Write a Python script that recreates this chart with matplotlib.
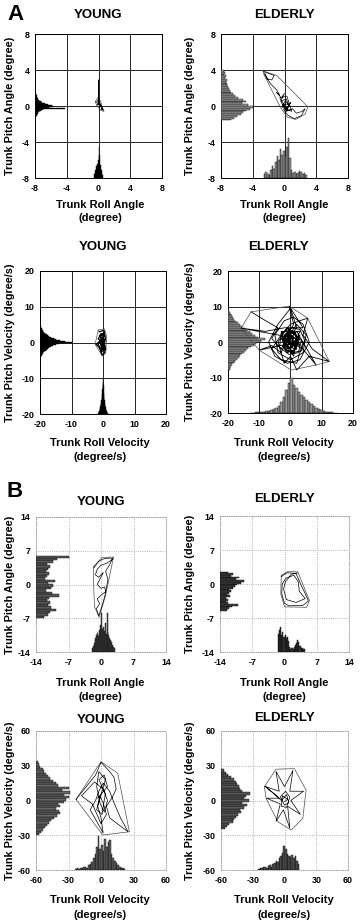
import matplotlib
matplotlib.use("Agg")
import matplotlib.pyplot as plt
import numpy as np

plt.rcParams["font.family"] = ["Liberation Sans", "DejaVu Sans"]
plt.rcParams["font.weight"] = "bold"

W, H = 362, 924

# ---------------- data ----------------
# A, young, angle (deg)
a_yng_ang_pitch_start, a_yng_ang_pitch_w = -1.2, 0.1
a_yng_ang_pitch = [0.15, 0.2, 0.3, 0.35, 0.4, 0.5, 0.6, 0.8, 1.0, 3.8, 1.8, 2.3, 2.1,
                   1.6, 1.2, 0.9, 0.7, 0.6, 0.5, 0.4, 0.35, 0.3, 0.25, 0.2, 0.15, 0.1]
a_yng_ang_roll_start, a_yng_ang_roll_w = -0.6, 0.1
a_yng_ang_roll = [0.4, 0.6, 0.9, 1.3, 1.6, 2.0, 3.5, 2.6, 1.5, 0.9, 0.5, 0.3]
a_yng_ang_hull = [(-0.4, 0.5), (0.0, 1.0), (0.3, 0.4), (0.7, -0.6), (0.3, -0.5), (-0.2, 0.0)]
a_yng_ang_traj = [(-0.3, 0.4), (0.1, 0.8), (0.0, 0.3), (-0.2, 0.1), (0.2, 0.2), (0.4, -0.1),
                  (0.3, -0.4), (0.5, -0.3), (0.2, 0.0), (-0.1, 0.3), (0.0, 0.6), (0.0, 2.9),
                  (0.05, 0.6), (0.3, 0.1), (0.6, -0.5), (0.4, -0.3)]

# A, elderly, angle (deg)
a_old_ang_pitch_start, a_old_ang_pitch_w = -1.6, 0.2
a_old_ang_pitch = [1.2, 1.6, 2.0, 2.5, 2.8, 3.2, 3.6, 4.0, 3.4, 2.6, 3.1, 2.8, 2.2, 1.8,
                   1.5, 1.3, 1.1, 1.0, 0.9, 0.7, 0.8, 0.6, 0.7, 0.5, 0.6, 0.4, 0.5, 0.4]
a_old_ang_roll_start, a_old_ang_roll_w = -2.6, 0.2
a_old_ang_roll = [0.5, 0.7, 0.4, 0.3, 0.9, 1.3, 1.0, 1.8, 2.4, 2.0, 3.2, 2.6, 3.0, 2.5,
                  3.4, 4.4, 2.2, 0.9, 0.6, 0.7, 0.5, 0.6, 0.8, 0.7, 0.5, 0.6, 0.3]
a_old_ang_hull = [(-2.7, 3.9), (-1.0, 3.4), (2.95, -0.1), (2.6, -0.9), (1.4, -1.5),
                  (0.3, -1.2), (-0.6, 0.0), (-2.6, 3.5)]
a_old_ang_traj = [(-2.6, 3.8), (-1.3, 3.4), (-1.6, 2.9), (-2.2, 3.0), (-2.5, 3.6), (-1.8, 2.5),
                  (-1.0, 1.8), (-0.6, 1.2), (-1.0, 1.5), (-0.4, 0.9), (0.0, 1.4), (-0.5, 0.5),
                  (0.2, 0.8), (0.5, 0.2), (-0.2, 0.2), (0.3, -0.3), (0.8, 0.4), (0.2, -0.6),
                  (1.0, -0.3), (1.5, -0.8), (2.2, -0.6), (2.6, -0.3), (2.1, -1.1), (1.2, -1.4),
                  (0.4, -1.0), (-0.1, -0.4), (0.6, 0.0), (0.1, 0.6), (-0.3, -0.1), (0.4, -0.5),
                  (-0.6, 0.9), (0.3, 1.1), (0.9, -0.6), (0.0, -0.2), (-0.4, 0.4)]

# A, young, velocity (deg/s)
a_yng_vel_pitch_start, a_yng_vel_pitch_w = -4.0, 0.25
a_yng_vel_pitch = [0.3, 0.5, 0.6, 0.8, 1.0, 1.3, 1.5, 1.9, 2.2, 2.6, 3.0, 3.6, 4.2, 5.0, 6.0,
                   7.5, 10.0, 8.0, 6.5, 5.2, 4.3, 3.6, 3.0, 2.5, 2.1, 1.8, 1.5, 1.2, 1.0, 0.8,
                   0.6, 0.5, 0.4, 0.3]
a_yng_vel_roll_start, a_yng_vel_roll_w = -1.5, 0.1
a_yng_vel_roll = [0.3, 0.5, 0.7, 0.9, 1.2, 1.5, 1.8, 2.2, 2.7, 3.2, 3.8, 4.5, 5.5, 7.0, 9.0,
                  10.0, 8.0, 6.0, 4.8, 3.8, 3.0, 2.4, 1.9, 1.5, 1.2, 0.9, 0.7, 0.5, 0.3, 0.2]
a_yng_vel_hull = [(-1.5, 3.5), (0.5, 3.8), (1.2, 1.5), (0.8, -3.0), (-0.2, -3.8), (-2.5, -0.5)]
a_yng_vel_traj = [(-1.2, 3.0), (0.3, 3.4), (0.8, 1.0), (-0.5, -1.0), (0.6, -2.8), (-0.3, -3.5),
                  (-1.0, -1.5), (-2.2, -0.5), (-0.8, 0.5), (0.5, 2.0), (-0.6, 2.5), (-1.5, 1.0),
                  (0.2, -0.2), (0.9, -1.8), (-0.2, -2.2), (-0.9, 0.0), (0.0, 1.5), (0.7, 0.3),
                  (-0.4, -0.6), (0.3, -1.4), (-0.7, 1.8), (0.4, 2.8), (-0.1, 0.5), (0.6, -0.9),
                  (-0.5, -2.8), (-1.6, -0.3), (-0.3, 1.0), (0.5, -0.3), (-0.6, -1.8),
                  (0.2, 2.2), (-1.0, 2.0), (0.8, -2.2)]

# A, elderly, velocity (deg/s)
a_old_vel_pitch_start, a_old_vel_pitch_w = -8.0, 0.5
a_old_vel_pitch = [0.5, 0.8, 1.0, 1.4, 1.8, 2.3, 2.8, 3.4, 3.9, 4.5, 5.2, 5.8, 6.5, 7.3, 8.2,
                   9.0, 10.5, 12.0, 9.5, 8.5, 7.8, 7.0, 6.2, 5.4, 4.6, 3.9, 3.2, 2.6, 2.0, 1.6,
                   1.2, 0.9, 0.6, 0.4]
a_old_vel_roll_start, a_old_vel_roll_w = -12.8, 0.8
a_old_vel_roll = [0.1, 0.1, 0.2, 0.2, 0.3, 0.4, 0.5, 0.7, 0.9, 1.2, 1.5, 2.0, 3.0, 4.5, 6.5,
                  8.5, 9.8, 8.0, 7.0, 6.0, 5.2, 4.4, 3.6, 3.0, 2.4, 1.9, 1.5, 1.1, 0.8, 0.6,
                  0.4, 0.3, 0.2, 0.1, 0.1]
a_old_vel_hull = [(-15.8, 3.9), (-12.6, 8.5), (-0.4, 10.1), (5.5, 6.7), (12.4, -5.5),
                  (8.2, -6.5), (0.2, -7.9), (-10.0, -2.3)]
a_old_vel_traj = [(-12.6, 8.5), (-8, 6), (-4, 4), (-6, 1), (-3, -2), (0, 3), (3, 1), (1, -3),
                  (-2, 0), (2, 5), (5, 2), (4, -3), (0, -5), (-4, -3), (-5, 2), (-2, 6), (1, 7),
                  (4, 5), (6, 0), (3, -5), (-1, -6), (-5, -4), (-7, 0), (-4, 5), (0, 9.5), (2, 4),
                  (-1, 1), (1, -1), (3, 3), (-3, 3), (-1, -3), (2, -2), (0, 2), (-2, -1), (4, 0),
                  (2, -6), (-3, -5), (-6, -2), (-3, 2), (0, 5), (3, 6), (5.5, 6.7), (4, 2), (7, -2),
                  (12.4, -5.5), (6, -4), (2, -7.9), (0, -4), (-2, -6), (-4, 0), (-1, 4), (2, 2),
                  (1, -4), (-3, 1), (0, 0), (3, -1), (1, 3), (-2, 2), (-1, -2), (2, 0),
                  (-10, -2.3), (-6, -1), (-3, -3), (-1, 1), (1, 1), (-1, -1), (0, -2), (2, 1),
                  (-15.8, 3.9), (-8, 3), (-2, 4), (4, 4), (-0.4, 10.1), (1, 5), (-1, 2), (0, -1),
                  (3, 2), (1, -2), (-2, 1), (0, 1), (2, 3), (8.2, -6.5), (4, -2), (0, 0),
                  (-1.5, 2.5), (1.5, 2.5), (2.5, -0.5), (1, -2.5), (-1.5, -2.5), (-2.5, 0.5),
                  (-0.5, 3.5), (2, 1.5), (1.5, -1), (-0.5, -1.5), (-2, 0.5), (-1, 2.5),
                  (1, 1.5), (0.5, -0.5), (-1, 0), (0, 1.5), (3.5, 0.5), (2.5, -3), (-0.5, -3.5),
                  (-3.5, -1.5), (-3, 2.5), (0.5, 4), (3, 3.5), (4.5, 0.5), (3.5, -2.5),
                  (0.5, -3), (-2, -2), (-2.5, 1.5), (-0.5, 2), (1, 0), (0, -0.5), (-0.5, 0.5)]

# B, young, angle (deg)
b_yng_ang_pitch_start, b_yng_ang_pitch_w = -7.0, 0.5
b_yng_ang_pitch = [1.8, 2.5, 3.0, 4.2, 3.2, 2.6, 3.0, 2.4, 2.8, 5.0, 3.4, 2.2, 3.2, 3.6, 2.5,
                   4.0, 2.0, 2.4, 2.8, 2.2, 2.6, 3.0, 2.4, 3.6, 4.6, 7.0]
b_yng_ang_roll_start, b_yng_ang_roll_w = -2.0, 0.2
b_yng_ang_roll = [0.8, 1.2, 1.8, 2.5, 3.0, 3.6, 4.0, 3.4, 4.5, 5.5, 8.0, 4.8, 5.2, 4.4, 6.0,
                  3.8, 8.0, 4.2, 3.5, 3.0, 2.4, 2.0, 1.5, 1.0, 0.8]
b_yng_ang_hull = [(-1.6, 3.7), (0.2, 5.6), (2.7, 5.7), (1.0, -2.2), (-0.4, -6.8),
                  (-1.4, -4.6), (-1.6, 0.2)]
b_yng_ang_traj = [(-1.5, 3.5), (-0.5, 4.8), (0.5, 5.3), (2.0, 5.5), (2.5, 5.2), (1.2, 4.4),
                  (0.0, 4.0), (-0.8, 3.2), (-1.2, 2.0), (-0.5, 1.5), (0.5, 2.5), (-0.3, 1.0),
                  (-0.8, 0.0), (0.0, -0.8), (0.8, -0.5), (1.0, -1.5), (0.0, -2.2), (-0.8, -3.0),
                  (-0.3, -4.0), (-1.0, -5.0), (-0.5, -6.5), (0.2, -4.5), (0.8, -2.5),
                  (1.2, -0.5), (1.5, 1.0), (1.0, 2.8), (1.8, 4.0), (2.6, 5.6)]

# B, elderly, angle (deg)
b_old_ang_pitch_start, b_old_ang_pitch_w = -5.5, 0.35
b_old_ang_pitch = [1.5, 2.0, 2.6, 3.8, 1.8, 1.4, 1.8, 1.3, 2.2, 1.6, 1.9, 2.4, 2.0, 2.8, 3.2,
                   3.6, 4.5, 5.3, 3.4, 4.2, 2.4, 2.8, 1.8]
b_old_ang_roll_start, b_old_ang_roll_w = -1.5, 0.25
b_old_ang_roll = [3.8, 4.6, 5.1, 3.5, 4.2, 3.0, 3.4, 2.8, 3.0, 2.2, 1.0, 0.7, 0.9, 0.6, 1.0,
                  1.4, 1.8, 2.4, 2.0, 1.2, 0.8, 0.9, 0.7, 0.6]
b_old_ang_hull = [(-0.7, 1.8), (0.8, 2.6), (2.9, 2.5), (5.4, -3.4), (4.8, -4.8), (0.0, -4.7),
                  (-0.8, -2.0)]
b_old_ang_traj = [(-0.7, 1.5), (0.5, 2.3), (2.5, 2.2), (3.5, 0.0), (4.5, -2.0), (5.2, -3.5),
                  (4.0, -4.4), (1.0, -4.5), (0.0, -4.0), (-0.6, -2.0), (-0.5, 0.0), (0.3, 1.2),
                  (2.0, 1.8), (3.0, 0.5), (3.2, -1.5), (4.5, -3.0), (2.5, -3.8), (0.4, -3.2),
                  (-0.2, -1.0), (0.2, 0.5), (1.5, 2.0), (2.8, 2.3)]

# B, young, velocity (deg/s)
b_yng_vel_pitch_start, b_yng_vel_pitch_w = -30, 2
b_yng_vel_pitch = [3, 5, 6, 8, 10, 12, 14, 17, 19, 22, 21, 18, 22, 20, 26, 28, 30, 26, 31, 24,
                   30, 20, 18, 16, 13, 11, 9, 7, 6, 4, 3, 2]
b_yng_vel_roll_start, b_yng_vel_roll_w = -24, 1.5
b_yng_vel_roll = [1, 1.5, 1, 2, 1.5, 2.5, 3, 2, 4, 5, 7, 10, 14, 20, 29, 18, 22, 16, 27, 20,
                  24, 26, 14, 10, 8, 6, 4, 3, 2, 1.5, 1]
b_yng_vel_hull = [(-23, 1), (0, 33.5), (15.4, 23.5), (26.2, -27), (1.6, -29.8)]
b_yng_vel_traj = [(-23, 1), (-5, 22), (0, 33), (8, 25), (12, 20), (14, 10), (10, 2), (5, -5),
                  (8, -15), (15, -20), (25, -27), (18, -15), (12, -2), (8, 8), (2, 15), (-2, 8),
                  (-5, 0), (-10, -8), (2, -28), (0, -15), (-3, -5), (0, 5), (4, 18), (-2, 25),
                  (-4, 12), (-1, -2), (3, -10), (6, 0), (2, 10), (-6, 16), (-18, 4), (-8, -3),
                  (0, -20), (5, -12), (2, -2), (-1, 4), (-4, -8), (1, -12), (4, 6), (-2, 18),
                  (3, 22), (6, 12), (-3, 2)]

# B, elderly, velocity (deg/s)
b_old_vel_pitch_start, b_old_vel_pitch_w = -25, 2
b_old_vel_pitch = [4, 6, 8, 11, 12, 14, 16, 19, 18, 22, 25, 20, 26, 22, 24, 27, 20, 18, 17, 15,
                   14, 12, 9, 7, 5, 3]
b_old_vel_roll_start, b_old_vel_roll_w = -25, 1.5
b_old_vel_roll = [1, 2, 1.5, 2.5, 3, 2, 3.5, 4, 3, 5, 6, 8, 7, 10, 12, 15, 21, 18, 14, 12, 11,
                  13, 10, 12, 8, 5]
b_old_vel_hull = [(-19, 12), (-8, 27), (9.4, 27.5), (20.4, 9), (17.3, -15.4), (6.3, -25.5),
                  (-6.4, -18.3), (-17.4, 1.8)]
b_old_vel_traj = [(-18, 12), (-5, 8), (-8, 25), (0, 12), (8, 26), (5, 8), (18, 8), (6, 0),
                  (15, -12), (3, -5), (5, -24), (-1, -8), (-8, -18), (-4, -3), (-17, 2), (-5, 2),
                  (-18, 12), (-10, 6), (-3, 0), (2, 5), (4, -2), (0, -4), (-4, 3), (1, 8),
                  (5, 3), (2, -6), (-3, -5), (-2, 4), (3, 1), (0, -1)]

# ---------------- figure ----------------
fig = plt.figure(figsize=(W / 100, H / 100), dpi=100)


def fx(px):
    return px / W


def fy(py):
    return 1 - py / H


def add_axes(l, t, r, b):
    return fig.add_axes([fx(l), fy(b), (r - l) / W, (b - t) / H])


def draw_panel(ax, lim, ticks, pitch, roll, hull, traj, bar_fc, section, traj_lw):
    p_start, p_w, p_len = pitch
    r_start, r_w, r_len = roll
    p_y = p_start + p_w * np.arange(len(p_len))
    r_x = r_start + r_w * np.arange(len(r_len))
    ax.barh(p_y, p_len, height=p_w, left=-lim, align="edge",
            color=bar_fc, edgecolor="black", linewidth=0.3, zorder=3)
    ax.bar(r_x, r_len, width=r_w, bottom=-lim, align="edge",
           color=bar_fc, edgecolor="black", linewidth=0.3, zorder=3)
    hx, hy = zip(*(hull + hull[:1]))
    ax.plot(hx, hy, color="0.3", lw=0.5, zorder=4)
    tx, ty = zip(*traj)
    ax.plot(tx, ty, color="black", lw=traj_lw, zorder=4)
    ax.set_xlim(-lim, lim)
    ax.set_ylim(-lim, lim)
    ax.set_xticks(ticks)
    ax.set_yticks(ticks)
    ax.set_xticklabels([str(t) for t in ticks])
    ax.set_yticklabels([str(t) for t in ticks])
    ax.tick_params(length=0, labelsize=6.4, pad=4)
    for lab in ax.get_xticklabels() + ax.get_yticklabels():
        lab.set_fontweight("bold")
    if section == "A":
        ax.grid(True, color="black", lw=0.6)
        for s in ax.spines.values():
            s.set_linewidth(0.7)
    else:
        ax.grid(True, color="0.6", lw=0.6, ls=":")
        for s in ax.spines.values():
            s.set_linewidth(0.6)
            s.set_linestyle(":")
            s.set_color("0.6")
    ax.set_axisbelow(True)


ang_a = [-8, -4, 0, 4, 8]
vel_a = [-20, -10, 0, 10, 20]
ang_b = [-14, -7, 0, 7, 14]
vel_b = [-60, -30, 0, 30, 60]

panels = [
    ((35, 34, 162, 178), 8, ang_a,
     (a_yng_ang_pitch_start, a_yng_ang_pitch_w, a_yng_ang_pitch),
     (a_yng_ang_roll_start, a_yng_ang_roll_w, a_yng_ang_roll),
     a_yng_ang_hull, a_yng_ang_traj, "black", "A", 0.5),
    ((221, 34, 348, 178), 8, ang_a,
     (a_old_ang_pitch_start, a_old_ang_pitch_w, a_old_ang_pitch),
     (a_old_ang_roll_start, a_old_ang_roll_w, a_old_ang_roll),
     a_old_ang_hull, a_old_ang_traj, "0.6", "A", 0.5),
    ((40, 271, 166, 414), 20, vel_a,
     (a_yng_vel_pitch_start, a_yng_vel_pitch_w, a_yng_vel_pitch),
     (a_yng_vel_roll_start, a_yng_vel_roll_w, a_yng_vel_roll),
     a_yng_vel_hull, a_yng_vel_traj, "black", "A", 0.9),
    ((228, 271, 353, 413), 20, vel_a,
     (a_old_vel_pitch_start, a_old_vel_pitch_w, a_old_vel_pitch),
     (a_old_vel_roll_start, a_old_vel_roll_w, a_old_vel_roll),
     a_old_vel_hull, a_old_vel_traj, "0.6", "A", 0.6),
    ((36, 517, 166, 652), 14, ang_b,
     (b_yng_ang_pitch_start, b_yng_ang_pitch_w, b_yng_ang_pitch),
     (b_yng_ang_roll_start, b_yng_ang_roll_w, b_yng_ang_roll),
     b_yng_ang_hull, b_yng_ang_traj, "0.35", "B", 0.5),
    ((220, 516, 349, 652), 14, ang_b,
     (b_old_ang_pitch_start, b_old_ang_pitch_w, b_old_ang_pitch),
     (b_old_ang_roll_start, b_old_ang_roll_w, b_old_ang_roll),
     b_old_ang_hull, b_old_ang_traj, "0.25", "B", 0.5),
    ((36, 731, 166, 870), 60, vel_b,
     (b_yng_vel_pitch_start, b_yng_vel_pitch_w, b_yng_vel_pitch),
     (b_yng_vel_roll_start, b_yng_vel_roll_w, b_yng_vel_roll),
     b_yng_vel_hull, b_yng_vel_traj, "0.4", "B", 0.5),
    ((221, 731, 348, 870), 60, vel_b,
     (b_old_vel_pitch_start, b_old_vel_pitch_w, b_old_vel_pitch),
     (b_old_vel_roll_start, b_old_vel_roll_w, b_old_vel_roll),
     b_old_vel_hull, b_old_vel_traj, "0.35", "B", 0.5),
]

for box, lim, ticks, pitch, roll, hull, traj, fc, sec, lw in panels:
    ax = add_axes(*box)
    draw_panel(ax, lim, ticks, pitch, roll, hull, traj, fc, sec, lw)
    l, t, r, b = box
    cy = (t + b) / 2
    ylab_x = 10 if l < 150 else 190
    is_vel = lim in (20, 60)
    ylab = "Trunk Pitch Velocity (degree/s)" if is_vel else "Trunk Pitch Angle (degree)"
    fig.text(fx(ylab_x), fy(cy), ylab, rotation=90, ha="center", va="center",
             fontsize=7.8, fontweight="bold")

# titles
titles = [("YOUNG", 98, 15), ("ELDERLY", 284, 15),
          ("YOUNG", 103, 247), ("ELDERLY", 278, 247),
          ("YOUNG", 101, 502), ("ELDERLY", 284, 499),
          ("YOUNG", 101, 720), ("ELDERLY", 284, 718)]
for txt, x, y in titles:
    fig.text(fx(x), fy(y), txt, ha="center", va="center", fontsize=9.5, fontweight="bold")

# x labels
xlabels = [("Trunk Roll Angle", "(degree)", 205, 218),
           ("Trunk Roll Velocity", "(degree/s)", 443, 457),
           ("Trunk Roll Angle", "(degree)", 683, 697),
           ("Trunk Roll Velocity", "(degree/s)", 900, 915)]
for line1, line2, y1, y2 in xlabels:
    for cx in (100, 284):
        fig.text(fx(cx), fy(y1), line1, ha="center", va="center", fontsize=8, fontweight="bold")
        fig.text(fx(cx), fy(y2), line2, ha="center", va="center", fontsize=8, fontweight="bold")

fig.text(fx(7), fy(14), "A", ha="left", va="center", fontsize=16, fontweight="bold")
fig.text(fx(7), fy(492), "B", ha="left", va="center", fontsize=16, fontweight="bold")

fig.savefig("out.png", dpi=100)
